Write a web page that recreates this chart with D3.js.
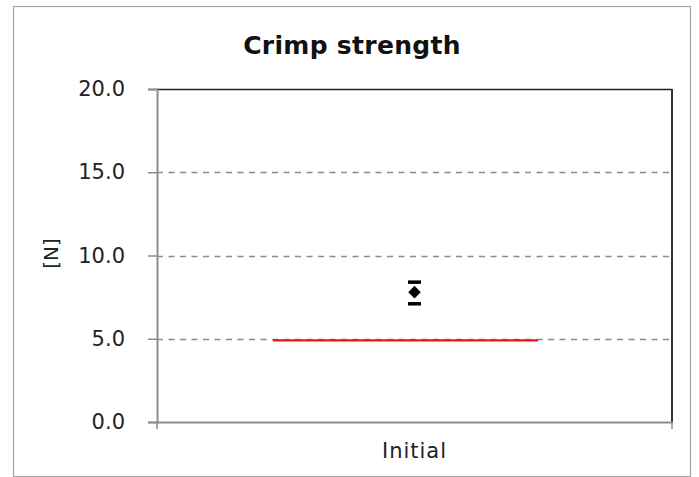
<!DOCTYPE html>
<html>
<head>
<meta charset="utf-8">
<script src="https://cdn.jsdelivr.net/npm/d3@7"></script>
<style>
  html, body { margin: 0; padding: 0; background: #fff; }
  svg { display: block; }
  text { font-family: "DejaVu Sans", Verdana, sans-serif; fill: #222; }
</style>
</head>
<body>
<svg id="chart" width="699" height="477"></svg>
<script>
// Chart content
const title = "Crimp strength";
const yLabel = "[N]";
const categories = ["Initial"];
const meanValues = [7.8];
const maxValues = [8.4];
const minValues = [7.1];
const yTicks = [0, 5, 10, 15, 20];
// Lower limit line (value and span in category units)
const limitValue = [4.9];
const limitSpan = [0.45, 1.48];

const svg = d3.select("#chart");
const W = 699, H = 477;
const margin = { left: 157, right: 27, top: 89, bottom: 55 };
const plotW = W - margin.left - margin.right;
const plotH = H - margin.top - margin.bottom;

// Outer chart frame
svg.append("rect")
  .attr("x", 13.5).attr("y", 6.5)
  .attr("width", 677).attr("height", 470)
  .attr("fill", "#fff").attr("stroke", "#a6a6a6").attr("stroke-width", 1.2);

// Title
svg.append("text")
  .attr("x", 352).attr("y", 54)
  .attr("text-anchor", "middle")
  .style("font-size", "25px").style("font-weight", "bold")
  .style("letter-spacing", "0.3px")
  .style("fill", "#111")
  .text(title);

const g = svg.append("g").attr("transform", `translate(${margin.left},${margin.top})`);

const y = d3.scaleLinear().domain([0, 20]).range([plotH, 0]);
const xBand = d3.scaleBand().domain(categories).range([0, plotW]);
// Continuous position scale: category i is centred at 2i + 1
const xPos = d3.scaleLinear().domain([0, categories.length * 2]).range([0, plotW]);

// Gridlines
g.append("g")
  .selectAll("line")
  .data(yTicks.filter(t => t > 0 && t < 20))
  .join("line")
  .attr("x1", 0).attr("x2", plotW)
  .attr("y1", d => Math.round(y(d)) + 0.5).attr("y2", d => Math.round(y(d)) + 0.5)
  .attr("stroke", "#8c8c8c").attr("stroke-width", 1.3)
  .attr("stroke-dasharray", "6,5.5");

// Plot frame: top and right edges
g.append("line")
  .attr("x1", 0).attr("x2", plotW).attr("y1", 0.5).attr("y2", 0.5)
  .attr("stroke", "#222").attr("stroke-width", 1.4);
g.append("line")
  .attr("x1", plotW).attr("x2", plotW).attr("y1", 0).attr("y2", plotH)
  .attr("stroke", "#333").attr("stroke-width", 2);

// Y axis
const yAxis = g.append("g")
  .call(d3.axisLeft(y).tickValues(yTicks).tickFormat(d3.format(".1f")).tickSizeOuter(0).tickSize(9).tickPadding(23));
yAxis.select(".domain").attr("stroke", "#8c8c8c").attr("stroke-width", 2);
yAxis.selectAll(".tick line").attr("stroke", "#8c8c8c").attr("stroke-width", 1.5);
yAxis.selectAll(".tick text")
  .style("font-size", "21px").style("fill", "#222")
  .style("font-family", "'DejaVu Sans', Verdana, sans-serif");

// X axis
const xAxis = g.append("g").attr("transform", `translate(0,${plotH})`)
  .call(d3.axisBottom(xBand).tickSize(0).tickPadding(21).tickSizeOuter(0));
xAxis.select(".domain").attr("stroke", "#8c8c8c").attr("stroke-width", 2);
xAxis.selectAll(".tick text")
  .style("font-size", "21px").style("fill", "#222")
  .style("letter-spacing", "1px")
  .style("font-family", "'DejaVu Sans', Verdana, sans-serif");
// Category boundary ticks
g.append("g").selectAll("line")
  .data(d3.range(categories.length + 1))
  .join("line")
  .attr("x1", d => xPos(d * 2)).attr("x2", d => xPos(d * 2))
  .attr("y1", plotH).attr("y2", plotH + 7)
  .attr("stroke", "#8c8c8c").attr("stroke-width", 1.5);

// Y axis title
svg.append("text")
  .attr("transform", `translate(58,${margin.top + y(10.0) - 2}) rotate(-90)`)
  .attr("text-anchor", "middle")
  .style("font-size", "20px")
  .text(yLabel);

// Lower limit line
g.append("line")
  .attr("x1", xPos(limitSpan[0])).attr("x2", xPos(limitSpan[1]))
  .attr("y1", y(limitValue[0])).attr("y2", y(limitValue[0]))
  .attr("stroke", "#e8141b").attr("stroke-width", 2.2);

// Error bar caps and mean marker
const pts = categories.map((c, i) => ({
  x: xPos(i * 2 + 1), mean: meanValues[i], max: maxValues[i], min: minValues[i]
}));
const capW = 13;
const marks = g.append("g");
marks.selectAll(".cap-top").data(pts).join("line")
  .attr("x1", d => d.x - capW / 2).attr("x2", d => d.x + capW / 2)
  .attr("y1", d => y(d.max)).attr("y2", d => y(d.max))
  .attr("stroke", "#000").attr("stroke-width", 3.5);
marks.selectAll(".cap-bot").data(pts).join("line")
  .attr("x1", d => d.x - capW / 2).attr("x2", d => d.x + capW / 2)
  .attr("y1", d => y(d.min)).attr("y2", d => y(d.min))
  .attr("stroke", "#000").attr("stroke-width", 3.5);
marks.selectAll("path").data(pts).join("path")
  .attr("d", d3.symbol(d3.symbolDiamond2, 100))
  .attr("transform", d => `translate(${d.x},${y(d.mean)})`)
  .attr("fill", "#000");
</script>
</body>
</html>
